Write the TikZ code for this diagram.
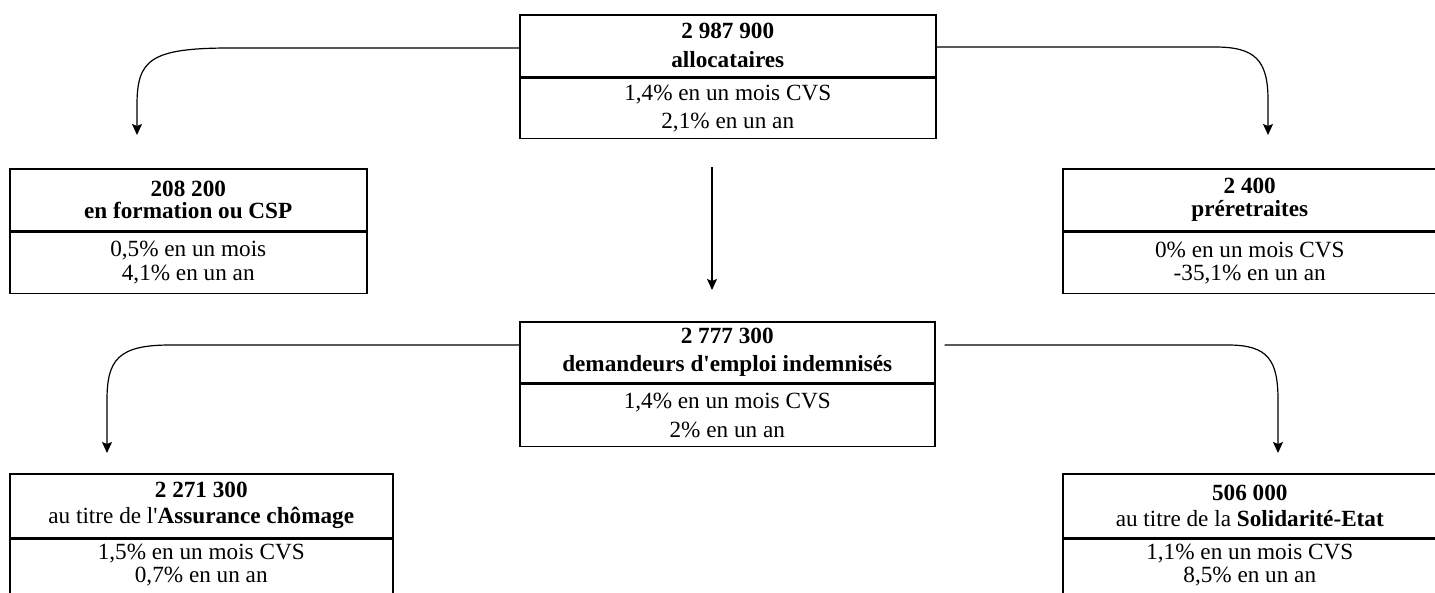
\documentclass[tikz,border=0pt]{standalone}
\usepackage{fontspec}
\setmainfont{Liberation Serif}[Ligatures=TeXOff]
\usetikzlibrary{arrows.meta,calc}
\begin{document}
\begin{tikzpicture}[x=1pt,y=-1pt,
  boxpart/.style={draw, line width=1.5pt, anchor=north west, inner sep=0pt, align=center},
  lh/.style={font=\fontsize{23.2}{#1}\selectfont},
  conn/.style={line width=1.2pt, -{Stealth[length=11pt,width=10pt,inset=2pt]}},
]
\useasboundingbox (0,0) rectangle (1435,592);
\clip (0,0) rectangle (1435,592);

% top box
\node[boxpart, lh=29pt, minimum width=416pt, minimum height=62pt] (tH) at (519,14)
  {\textbf{2 987 900}\\\textbf{allocataires}};
\node[boxpart, lh=28pt, minimum width=416pt, minimum height=60pt] (tB) at (tH.south west)
  {1,4\% en un mois CVS\\2,1\% en un an};

% formation box
\node[boxpart, lh=22.5pt, minimum width=357pt, minimum height=62pt] (fH) at (9,168)
  {\textbf{208 200}\\\textbf{en formation ou CSP}};
\node[boxpart, lh=24pt, minimum width=357pt, minimum height=61pt] (fB) at (fH.south west)
  {0,5\% en un mois\\4,1\% en un an};

% preretraites box
\node[boxpart, lh=23pt, minimum width=374pt, minimum height=62pt] (pH) at (1062,168)
  {\textbf{2 400}\\\textbf{préretraites}};
\node[boxpart, lh=23pt, minimum width=374pt, minimum height=61pt] (pB) at (pH.south west)
  {0\% en un mois CVS\\-35,1\% en un an};

% middle box
\node[boxpart, lh=28pt, minimum width=415pt, minimum height=61pt] (mH) at (519,321)
  {\textbf{2 777 300}\\\textbf{demandeurs d'emploi indemnisés}};
\node[boxpart, lh=29pt, minimum width=415pt, minimum height=62pt] (mB) at (mH.south west)
  {1,4\% en un mois CVS\\2\% en un an};

% assurance chomage box
\node[boxpart, lh=26pt, minimum width=383pt, minimum height=64pt] (aH) at (9,473)
  {\textbf{2 271 300}\\au titre de l'\textbf{Assurance chômage}};
\node[boxpart, lh=23pt, text depth=10pt, minimum width=383pt, minimum height=58pt] (aB) at (aH.south west)
  {1,5\% en un mois CVS\\0,7\% en un an};

% solidarite box
\node[boxpart, lh=26pt, minimum width=374pt, minimum height=64pt] (sH) at (1062,473)
  {\textbf{506 000}\\au titre de la \textbf{Solidarité-Etat}};
\node[boxpart, lh=23pt, text depth=10pt, minimum width=374pt, minimum height=58pt] (sB) at (sH.south west)
  {1,1\% en un mois CVS\\8,5\% en un an};

% connectors
\coordinate (tL) at ($(tH.north west)+(0,34)$);
\coordinate (tR) at ($(tH.north east)+(0,33)$);
\coordinate (mL) at ($(mH.north west)+(0,24)$);
\coordinate (mR) at ($(mH.north east)+(9,24)$);
\coordinate (fT) at (137,135);
\coordinate (pT) at (1268,135);
\coordinate (aT) at (107,453);
\coordinate (sT) at (1278,453);
\coordinate (ms) at (712,167);
\coordinate (me) at (712,290);

\draw[conn] (tL) -- (230,48) .. controls (150,48) and (137,60) .. (137,105) -- (fT);
\draw[conn] (tR) -- (1215,47) .. controls (1255,47) and (1268,60) .. (1268,100) -- (pT);
\draw[conn] (ms) -- (me);
\draw[conn] (mL) -- (170,345) .. controls (118,345) and (107,360) .. (107,400) -- (aT);
\draw[conn] (mR) -- (1228,345) .. controls (1268,345) and (1278,360) .. (1278,400) -- (sT);
\end{tikzpicture}
\end{document}
